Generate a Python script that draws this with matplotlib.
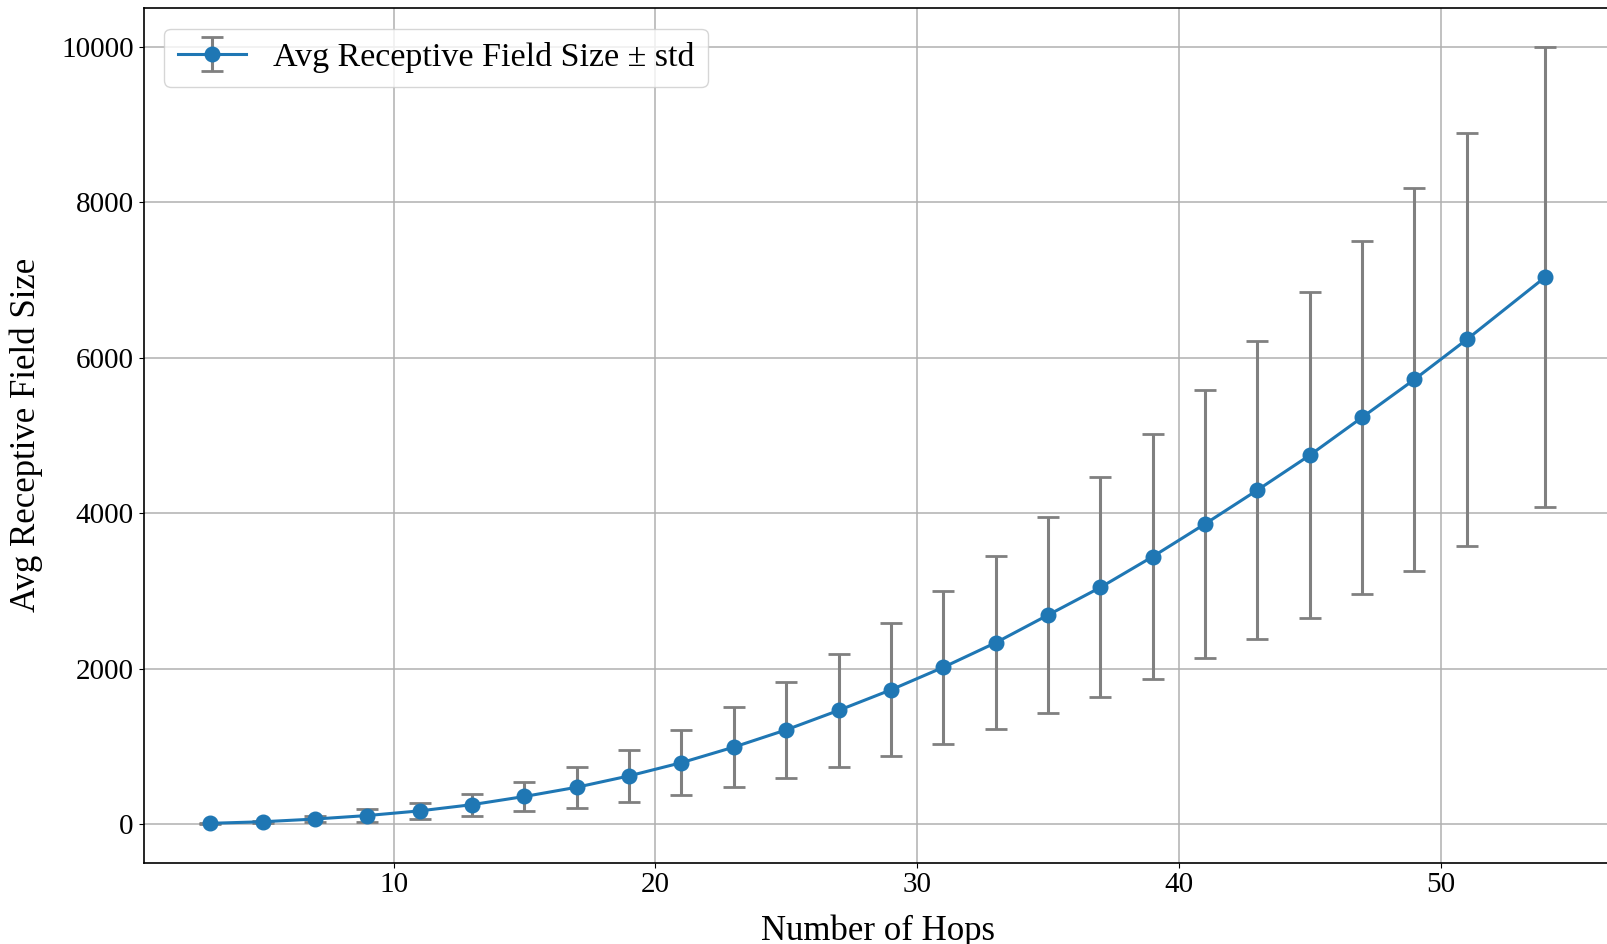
import numpy as np
import matplotlib
matplotlib.use("Agg")
import matplotlib.pyplot as plt

plt.rcParams["font.family"] = ["Liberation Serif", "DejaVu Serif"]

# Number of hops and receptive field stats
hops = [3, 5, 7, 9, 11, 13, 15, 17, 19, 21, 23, 25, 27, 29, 31, 33, 35, 37, 39, 41, 43, 45, 47, 49, 51, 54]
avg_size = [10, 30, 65, 110, 170, 250, 355, 474, 620, 790, 990, 1212, 1462, 1726, 2016, 2332,
            2688, 3043, 3439, 3860, 4295, 4743, 5230, 5718, 6232, 7035]
std_size = [5, 15, 40, 80, 100, 140, 190, 265, 335, 420, 515, 620, 725, 855, 980, 1115,
            1265, 1415, 1575, 1720, 1915, 2095, 2265, 2457, 2655, 2958]

fig = plt.figure(figsize=(16.08, 9.44), dpi=100)
ax = fig.add_axes([0.0893, 0.0863, 0.9132, 0.905])

ax.errorbar(hops, avg_size, yerr=std_size, fmt="-o", color="#1f77b4",
            ecolor="gray", elinewidth=2.2, capsize=8, capthick=2,
            linewidth=2.2, markersize=10.5, label="Avg Receptive Field Size ± std")

# x label sits partly below the figure edge, as in the original crop
ax.set_xlabel("Number of Hops", fontsize=25, labelpad=12)
ax.set_ylabel("Avg Receptive Field Size", fontsize=25, labelpad=13)
ax.tick_params(axis="both", labelsize=21)
ax.grid(True, linewidth=1.1)
ax.legend(loc="upper left", fontsize=24.5, borderaxespad=0.6)

for s in ax.spines.values():
    s.set_linewidth(1.2)

plt.savefig("out.png", dpi=100)
